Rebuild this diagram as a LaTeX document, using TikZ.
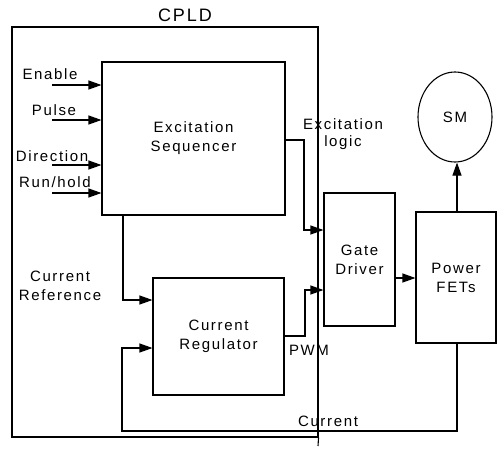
\documentclass[tikz,border=0pt]{standalone}
\usepackage{fontspec}
\setmainfont[LetterSpace=11]{Liberation Sans}
\usetikzlibrary{arrows.meta,shapes.geometric}
\begin{document}
\begin{tikzpicture}[x=1pt,y=-1pt,line width=1.1pt,
  font=\fontsize{15}{18}\selectfont,
  box/.style={draw,rectangle,inner sep=0pt,align=center},
  lbl/.style={inner sep=0pt,align=center},
  arr/.style={-{Triangle[length=13pt,width=9pt]}}]
\useasboundingbox (0,0) rectangle (501,448);
% CPLD
\node[draw,rectangle,minimum width=306pt,minimum height=410pt,inner sep=0pt] (cpld) at (165,232) {};
\coordinate (cpldtail) at (318,446);
\draw (cpld.south east) -- (cpldtail);
\node[lbl,font=\fontsize{18}{20}\selectfont] (cpldl) at (185,15) {CPLD};
% blocks
\node[box,minimum width=183pt,minimum height=153pt] (seq) at (193.5,138.5) {Excitation\\[1pt]Sequencer};
\node[box,minimum width=131pt,minimum height=117pt] (reg) at (218.5,336.5) {Current\\[1pt]Regulator};
\node[box,minimum width=71pt,minimum height=133pt] (gate) at (359.5,259.5) {Gate\\[1pt]Driver};
\node[box,minimum width=80pt,minimum height=131pt] (fets) at (456,277.5) {Power\\[1pt]FETs};
\node[draw,ellipse,minimum width=74pt,minimum height=90pt,inner sep=0pt] (sm) at (455,117) {SM};
% inputs
\node[lbl] (en) at (50,74) {Enable};
\node[lbl] (pu) at (54,110) {Pulse};
\node[lbl] (di) at (52,156) {Direction};
\node[lbl] (rh) at (55,182) {Run/hold};
\coordinate (ien) at (52,85);
\coordinate (ipu) at (52,120);
\coordinate (idi) at (52,165);
\coordinate (irh) at (52,193);
\draw[arr] (ien) -- (ien -| seq.west);
\draw[arr] (ipu) -- (ipu -| seq.west);
\draw[arr] (idi) -- (idi -| seq.west);
\draw[arr] (irh) -- (irh -| seq.west);
% excitation logic
\node[lbl] (exl) at (343,134) {Excitation\\[-1pt]logic};
\draw[arr] (seq.east |- 0,140) -- (304,140) -- (304,230) -- (gate.west |- 0,230);
% PWM
\node[lbl] (pwm) at (309,350) {PWM};
\draw[arr] (reg.east |- 0,336) -- (305,336) -- (305,290) -- (gate.west |- 0,290);
% current reference
\node[lbl] (cref) at (60,286) {Current\\[1pt]Reference};
\draw[arr] (seq.south -| 123,0) -- (123,300) -- (reg.west |- 0,300);
% gate -> fets
\draw[arr] (gate.east |- 0,278) -- (fets.west |- 0,278);
% fets -> SM
\draw[arr] (fets.north -| 457,0) -- (sm.south -| 457,0);
% current feedback
\node[lbl] (cur) at (328,421) {Current};
\draw[arr] (fets.south -| 457,0) -- (457,431) -- (122,431) -- (122,348) -- (reg.west |- 0,348);
\end{tikzpicture}
\end{document}
